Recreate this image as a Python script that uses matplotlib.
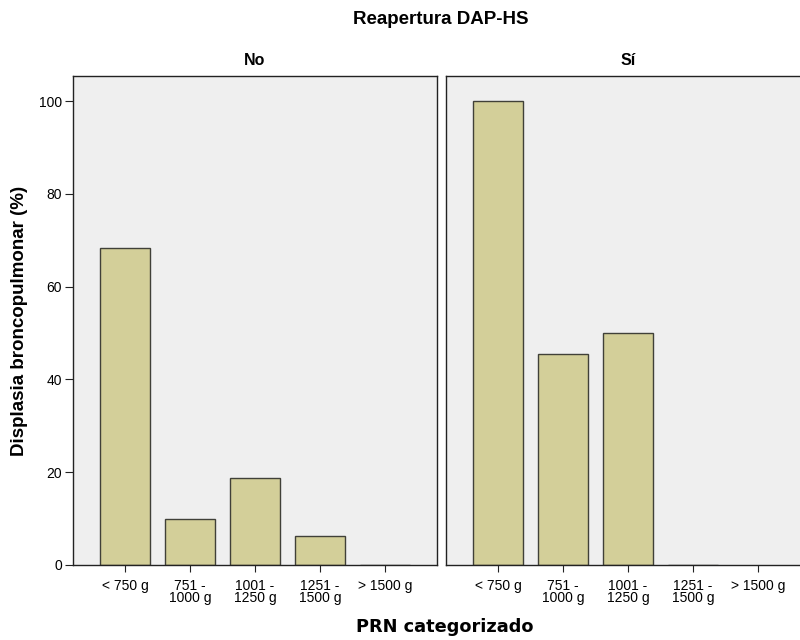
import numpy as np
import matplotlib
matplotlib.use("Agg")
import matplotlib.pyplot as plt

plt.rcParams['font.family'] = ['Liberation Sans', 'DejaVu Sans']

categories = ["< 750 g", "751 -\n1000 g", "1001 -\n1250 g", "1251 -\n1500 g", "> 1500 g"]
panels = ["No", "Sí"]
values_no = [68.4, 10.0, 18.75, 6.25, 0.0]
values_si = [100.0, 45.45, 50.0, 0.0, np.nan]
yticks = [0, 20, 40, 60, 80, 100]

bar_color = "#d3cf99"
edge_color = "#404038"
bg_color = "#efefef"

fig = plt.figure(figsize=(8, 6.4), dpi=100)
ax_l = fig.add_axes([0.09125, 0.1172, 0.455, 0.764])
ax_r = fig.add_axes([0.5575, 0.1172, 0.455, 0.764])

x = np.arange(len(categories))
for ax, vals, name in [(ax_l, values_no, panels[0]), (ax_r, values_si, panels[1])]:
    ax.set_facecolor(bg_color)
    for xi, v in zip(x, vals):
        if np.isnan(v):
            continue
        ax.bar(xi, v, width=0.77, color=bar_color, edgecolor=edge_color, linewidth=1.0)
    ax.set_xlim(-0.8, 4.8)
    ax.set_ylim(0, 105.4)
    ax.set_xticks(x)
    ax.set_xticklabels(categories, fontsize=10, linespacing=0.85)
    ax.tick_params(axis='x', length=5, width=0.8, color="#222222", pad=5)
    for s in ax.spines.values():
        s.set_color("#222222")
        s.set_linewidth(1.0)
    ax.set_title(name, fontsize=11.5, fontweight='bold', pad=8)

ax_l.set_yticks(yticks)
ax_l.set_yticklabels([str(t) for t in yticks], fontsize=10)
ax_l.tick_params(axis='y', length=6, width=0.8, color="#222222", pad=2)
ax_r.set_yticks([])
ax_l.set_ylabel("Displasia broncopulmonar (%)", fontsize=13.5, fontweight='bold')
ax_l.yaxis.set_label_coords(-0.124, 0.5)

fig.text(0.551, 0.969, "Reapertura DAP-HS", ha='center', va='center',
         fontsize=13.5, fontweight='bold')
fig.text(0.556, 0.021, "PRN categorizado", ha='center', va='center',
         fontsize=12.8, fontweight='bold', family=['DejaVu Sans'])

fig.savefig("out.png", dpi=100, facecolor="white")
